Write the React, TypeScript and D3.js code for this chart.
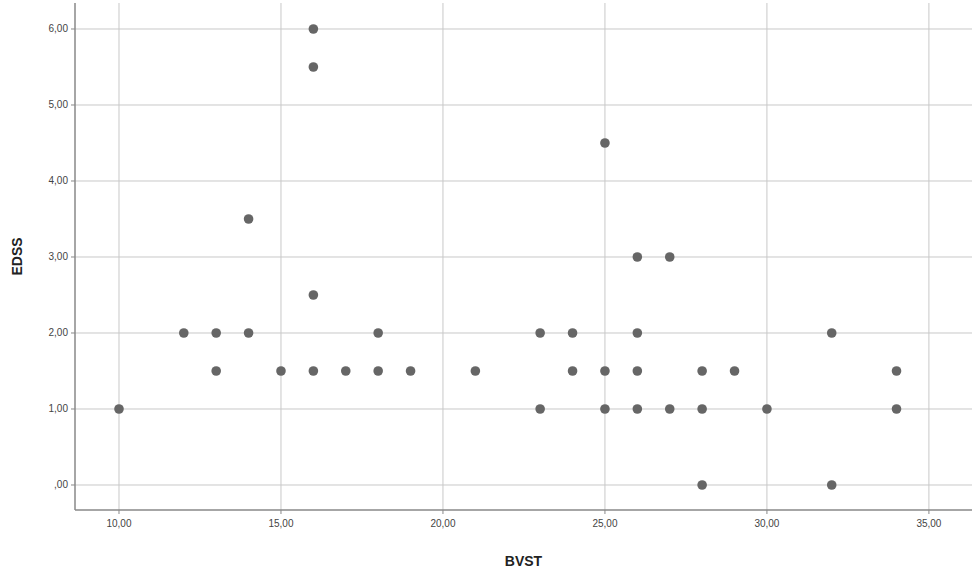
import React from "react";
import * as d3 from "d3";

const bvst = [10, 12, 13, 13, 14, 14, 15, 16, 16, 16, 16, 17, 18, 18, 19, 21, 23, 23, 24, 24, 25, 25, 25, 26, 26, 26, 26, 27, 27, 28, 28, 28, 29, 30, 32, 32, 34, 34];
const edss = [1, 2, 2, 1.5, 3.5, 2, 1.5, 6, 5.5, 2.5, 1.5, 1.5, 2, 1.5, 1.5, 1.5, 2, 1, 2, 1.5, 4.5, 1.5, 1, 3, 2, 1.5, 1, 3, 1, 1.5, 1, 0, 1.5, 1, 2, 0, 1.5, 1];
const xTicks = [10, 15, 20, 25, 30, 35];
const yTicks = [0, 1, 2, 3, 4, 5, 6];

const W = 974, H = 579;
const left = 75, right = 972, top = 3, bottom = 510;

const fmt = (v: number) => {
  const s = v.toFixed(2).replace(".", ",");
  return s.startsWith("0,") ? s.slice(1) : s;
};

export default function App() {
  const x = d3.scaleLinear().domain([8.642, 36.33]).range([left, right]);
  const y = d3.scaleLinear().domain([-0.329, 6.342]).range([bottom, top]);
  return (
    <svg width={W} height={H} style={{ position: "absolute", left: 0, top: 0, background: "#fff" }}
      fontFamily="Liberation Sans, Arial, sans-serif">
      {yTicks.map((t) => (
        <g key={"y" + t}>
          <line x1={left} x2={right} y1={y(t)} y2={y(t)} stroke="#c8c8c8" strokeWidth={1} />
          <line x1={left - 4} x2={left} y1={y(t)} y2={y(t)} stroke="#888" strokeWidth={1} />
          <text x={left - 7} y={y(t)} dy="0.35em" textAnchor="end" fontSize={10} fill="#444">{fmt(t)}</text>
        </g>
      ))}
      {xTicks.map((t) => (
        <g key={"x" + t}>
          <line x1={x(t)} x2={x(t)} y1={top} y2={bottom} stroke="#c8c8c8" strokeWidth={1} />
          <line x1={x(t)} x2={x(t)} y1={bottom} y2={bottom + 4} stroke="#888" strokeWidth={1} />
          <text x={x(t)} y={bottom + 17} textAnchor="middle" fontSize={10} fill="#444">{fmt(t)}</text>
        </g>
      ))}
      <line x1={left} x2={left} y1={top} y2={bottom} stroke="#888" strokeWidth={1.5} />
      <line x1={left} x2={right} y1={bottom} y2={bottom} stroke="#888" strokeWidth={1.5} />
      {bvst.map((v, i) => (
        <circle key={i} cx={x(v)} cy={y(edss[i])} r={4.8} fill="#666" />
      ))}
      <text x={(left + right) / 2} y={566} textAnchor="middle" fontSize={14} fontWeight="bold" fill="#222">BVST</text>
      <text transform={`translate(22,${(top + bottom) / 2}) rotate(-90)`} textAnchor="middle" fontSize={14} fontWeight="bold" fill="#222">EDSS</text>
    </svg>
  );
}
